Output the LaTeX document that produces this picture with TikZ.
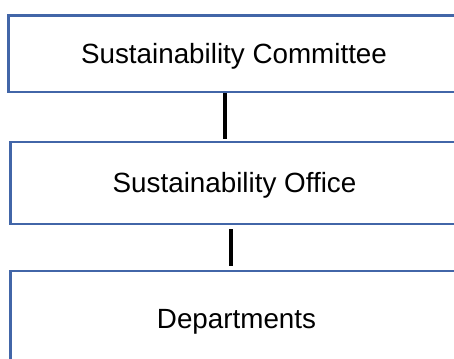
\documentclass[tikz,border=0pt]{standalone}
\usepackage{fontspec}
\setmainfont{Liberation Sans}
\usetikzlibrary{positioning}
\definecolor{boxblue}{RGB}{66,102,168}
\begin{document}
\begin{tikzpicture}[x=1pt,y=1pt,
    unitbox/.style={draw=boxblue,line width=2.5pt,fill=white,align=center,
      font=\fontsize{27.8}{33}\selectfont,text height=20pt,text depth=0pt,inner sep=0pt},
    link/.style={line width=4.5pt,draw=black}]
  \useasboundingbox (0,0) rectangle (454,358);
  \clip (0,0) rectangle (454,358);
  \node[unitbox,minimum width=451.5pt,minimum height=76.5pt] (comm) at (234,304.25) {Sustainability Committee};
  \node[unitbox,minimum width=448pt,minimum height=82pt] (office) at (234.5,175) {Sustainability Office};
  \node[unitbox,minimum width=452pt,minimum height=96pt] (dept) at (236.5,39) {Departments};
  \draw[link,shorten >=2pt] ([xshift=-9pt]comm.south) -- ([xshift=-9pt]comm.south |- office.north);
  \draw[link,shorten <=4pt,shorten >=4pt] ([xshift=-3.5pt]office.south) -- ([xshift=-3.5pt]office.south |- dept.north);
\end{tikzpicture}
\end{document}
